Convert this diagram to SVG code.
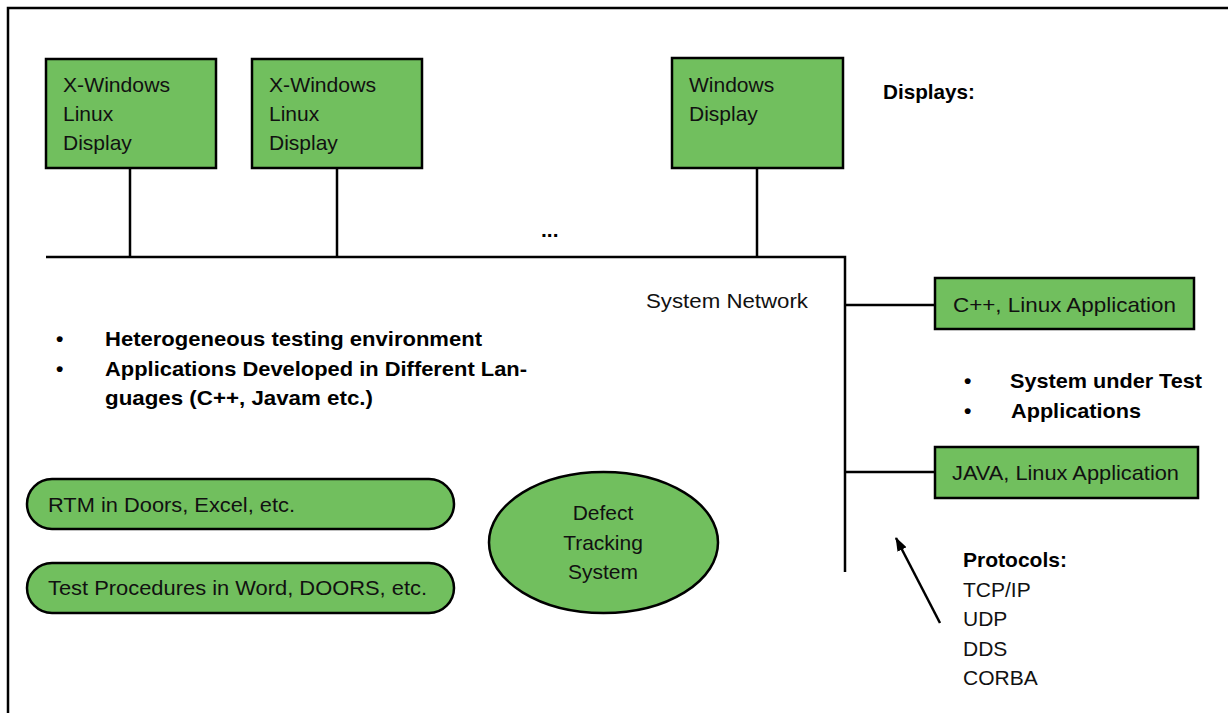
<svg xmlns="http://www.w3.org/2000/svg" width="1228" height="713" viewBox="0 0 1228 713">
<defs>
<style>
.box{fill:#71bf5e;stroke:#000;stroke-width:2.5}
.ln{stroke:#000;stroke-width:2.5;fill:none}
.t{font-family:"Liberation Sans",Arial,sans-serif;font-size:21px;fill:#111}
.b{font-family:"Liberation Sans",Arial,sans-serif;font-size:21px;font-weight:bold;fill:#000}
</style>
<marker id="ah" viewBox="0 0 14 10" refX="13" refY="5" markerWidth="14" markerHeight="10" markerUnits="userSpaceOnUse" orient="auto">
<path d="M0,0 L14,5 L0,10 Z" fill="#000"/>
</marker>
</defs>
<rect width="1228" height="713" fill="#fff"/>
<path class="ln" d="M8,720 L8,8 L1240,8"/>

<g id="connectors">
<path class="ln" d="M46,257 L845,257 L845,572"/>
<line class="ln" x1="130" y1="168" x2="130" y2="257"/>
<line class="ln" x1="337" y1="168" x2="337" y2="257"/>
<line class="ln" x1="757" y1="168" x2="757" y2="257"/>
<line class="ln" x1="845" y1="305" x2="935" y2="305"/>
<line class="ln" x1="845" y1="472" x2="935" y2="472"/>
<line class="ln" x1="940" y1="623" x2="896" y2="538" marker-end="url(#ah)"/>
</g>

<g id="xwin1">
<rect class="box" x="46" y="59" width="170" height="109"/>
<text class="t" x="63" y="92" textLength="107" lengthAdjust="spacingAndGlyphs">X-Windows</text>
<text class="t" x="63" y="121">Linux</text>
<text class="t" x="63" y="150">Display</text>
</g>
<g id="xwin2">
<rect class="box" x="252" y="59" width="170" height="109"/>
<text class="t" x="269" y="92" textLength="107" lengthAdjust="spacingAndGlyphs">X-Windows</text>
<text class="t" x="269" y="121">Linux</text>
<text class="t" x="269" y="150">Display</text>
</g>
<g id="windisp">
<rect class="box" x="672" y="58" width="171" height="110"/>
<text class="t" x="689" y="92">Windows</text>
<text class="t" x="689" y="121">Display</text>
</g>
<g id="displays-label">
<text class="b" x="883" y="99" textLength="92" lengthAdjust="spacingAndGlyphs">Displays:</text>
</g>
<g id="ellipsis">
<text class="b" x="541" y="237">...</text>
</g>
<g id="network-label">
<text class="t" x="646" y="308" textLength="162" lengthAdjust="spacingAndGlyphs">System Network</text>
</g>
<g id="cpp-app">
<rect class="box" x="935" y="278" width="259" height="51"/>
<text class="t" x="953" y="312" textLength="223" lengthAdjust="spacingAndGlyphs">C++, Linux Application</text>
</g>
<g id="java-app">
<rect class="box" x="935" y="447" width="263" height="51"/>
<text class="t" x="952" y="480" textLength="227" lengthAdjust="spacingAndGlyphs">JAVA, Linux Application</text>
</g>
<g id="sut-bullets">
<text class="b" x="964" y="388">•</text>
<text class="b" x="1010" y="388" textLength="192" lengthAdjust="spacingAndGlyphs">System under Test</text>
<text class="b" x="964" y="418">•</text>
<text class="b" x="1011" y="418" textLength="130" lengthAdjust="spacingAndGlyphs">Applications</text>
</g>
<g id="env-bullets">
<text class="b" x="56" y="346">•</text>
<text class="b" x="105" y="346" textLength="377" lengthAdjust="spacingAndGlyphs">Heterogeneous testing environment</text>
<text class="b" x="56" y="376">•</text>
<text class="b" x="105" y="376" textLength="422" lengthAdjust="spacingAndGlyphs">Applications Developed in Different Lan-</text>
<text class="b" x="105" y="405" textLength="268" lengthAdjust="spacingAndGlyphs">guages (C++, Javam etc.)</text>
</g>
<g id="rtm">
<rect class="box" x="27" y="479" width="427" height="50" rx="25" ry="25"/>
<text class="t" x="48" y="512" textLength="247" lengthAdjust="spacingAndGlyphs">RTM in Doors, Excel, etc.</text>
</g>
<g id="testproc">
<rect class="box" x="27" y="563" width="427" height="50" rx="25" ry="25"/>
<text class="t" x="48" y="595" textLength="379" lengthAdjust="spacingAndGlyphs">Test Procedures in Word, DOORS, etc.</text>
</g>
<g id="defect">
<ellipse class="box" cx="603.5" cy="542.5" rx="114.5" ry="70.5"/>
<text class="t" x="603" y="520" text-anchor="middle">Defect</text>
<text class="t" x="603" y="550" text-anchor="middle">Tracking</text>
<text class="t" x="603" y="579" text-anchor="middle">System</text>
</g>
<g id="protocols">
<text class="b" x="963" y="567" textLength="104" lengthAdjust="spacingAndGlyphs">Protocols:</text>
<text class="t" x="963" y="597">TCP/IP</text>
<text class="t" x="963" y="626">UDP</text>
<text class="t" x="963" y="656">DDS</text>
<text class="t" x="963" y="685">CORBA</text>
</g>
</svg>
